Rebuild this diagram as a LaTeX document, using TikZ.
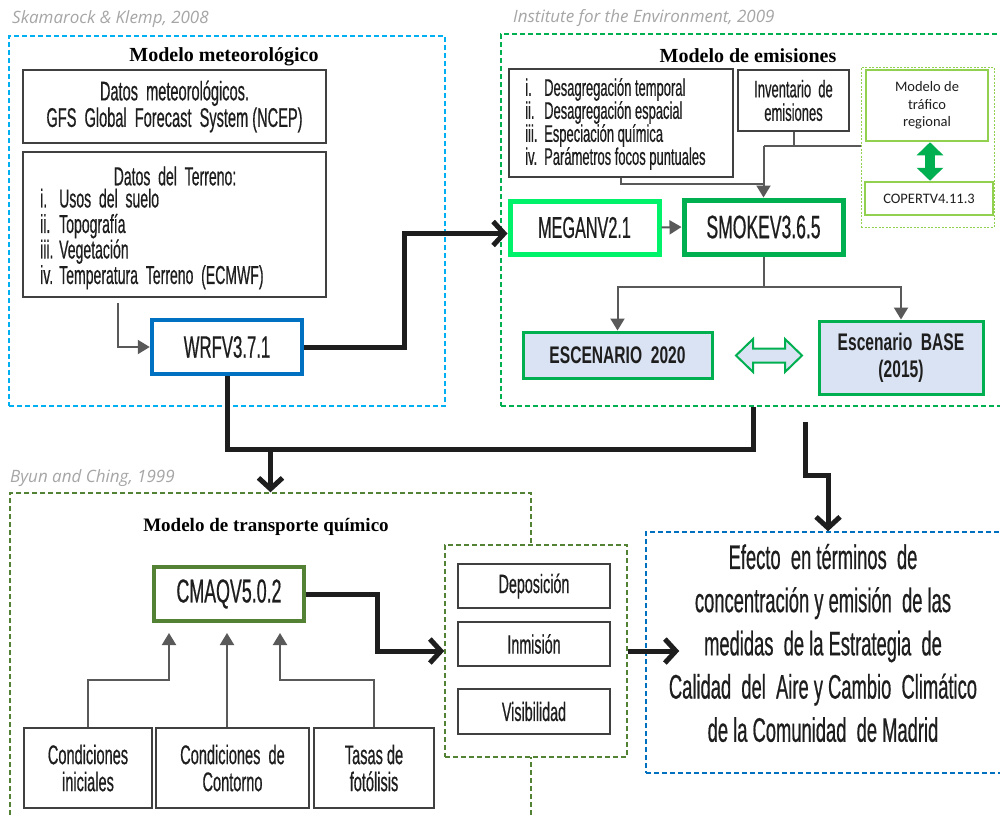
\documentclass[tikz,border=0pt]{standalone}
\usepackage{fontspec}
\usetikzlibrary{arrows.meta,calc}
\newfontfamily\cnd[FakeStretch=0.54,FakeBold=0.5]{Liberation Sans}
\newfontfamily\cndb[FakeStretch=0.65]{Liberation Sans}
\newfontfamily\ttlfont{Liberation Serif}
\newfontfamily\citfont{Open Sans}
\newfontfamily\calfont{Carlito}
\newcommand{\fsz}[2]{\fontsize{#1}{#2}\selectfont}
\definecolor{lblue}{HTML}{00B0F0}
\definecolor{dblue}{HTML}{0070C0}
\definecolor{mgreen}{HTML}{00B050}
\definecolor{bgreen}{HTML}{00F26A}
\definecolor{lgreen}{HTML}{92D050}
\definecolor{olive}{HTML}{548235}
\definecolor{txt}{HTML}{1E1E1E}
\definecolor{bord}{HTML}{404040}
\definecolor{gline}{HTML}{595959}
\definecolor{scen}{HTML}{DAE3F3}
\definecolor{citc}{HTML}{A6A6A6}
\tikzset{
  dbox/.style={draw, dash pattern=on 5pt off 3pt, line width=1.5, rectangle, inner sep=0},
  bx/.style={draw=bord, line width=2, rectangle, inner sep=0, text=txt, align=center},
  cit/.style={font=\citfont\itshape\fsz{17}{20}, text=citc, anchor=west, inner sep=0},
  ttl/.style={font=\ttlfont\bfseries\fsz{20}{22}, text=black, inner sep=0},
  glin/.style={draw=gline, line width=2},
  garrow/.style={glin, -{Triangle[length=12pt,width=14pt]}},
  tline/.style={draw=txt, line width=5},
  tarrow/.style={tline, -{Straight Barb[length=11pt,width=24pt]}},
}
\begin{document}
\begin{tikzpicture}[x=1pt,y=-1pt]
\useasboundingbox (0,0) rectangle (1000,815);
\fill[white] (0,0) rectangle (1000,815);

% ---------------- Modelo meteorologico ----------------
\node[cit] (c1) at (12,19) {Skamarock \& Klemp, 2008};
\node[dbox, draw=lblue, minimum width=436, minimum height=370] (mm) at (227,221) {};
\node[ttl] (t1) at (224,57) {Modelo meteorológico};
\node[bx, minimum width=303, minimum height=73, font=\cnd\fsz{27}{26.5}] (gfs) at (174.5,106.5)
  {Datos\ \ meteorológicos.\\GFS\ \ Global\ \ Forecast\ \ System (NCEP)};
\node[bx, minimum width=303, minimum height=145] (terr) at (174.5,224.5) {};
\node[font=\cnd\fsz{26}{25.5}, text=txt, inner sep=0] (terrh) at (175,176) {Datos\ \ del\ \ Terreno:};
\node[font=\cnd\fsz{26}{25.5}, text=txt, inner sep=0, anchor=west, align=left] (terrl) at (40,239)
  {\makebox[19pt][l]{i.}Usos\ \ del\ \ suelo\\
   \makebox[19pt][l]{ii.}Topografía\\
   \makebox[19pt][l]{iii.}Vegetación\\
   \makebox[19pt][l]{iv.}Temperatura\ \ Terreno\ \ (ECMWF)};
\node[bx, draw=dblue, line width=4.5, minimum width=150, minimum height=54, font=\cnd\fsz{31}{32}] (wrf) at (227,347) {WRFV3.7.1};
\coordinate (t1s) at (118,303);
\draw[garrow] (t1s) |- (wrf.west);

% ---------------- Modelo de emisiones ----------------
\node[cit] (c2) at (513,18) {Institute for the Environment, 2009};
\node[dbox, draw=mgreen, minimum width=506, minimum height=372] (me) at (754,220) {};
\node[ttl] (t2) at (748,56) {Modelo de emisiones};
\node[bx, minimum width=224, minimum height=108] (lst) at (621,123) {};
\node[font=\cnd\fsz{24}{23}, text=txt, inner sep=0, anchor=west, align=left] (lstt) at (525,124)
  {\makebox[19pt][l]{i.}Desagregación temporal\\
   \makebox[19pt][l]{ii.}Desagregación espacial\\
   \makebox[19pt][l]{iii.}Especiación química\\
   \makebox[19pt][l]{iv.}Parámetros focos puntuales};
\node[bx, minimum width=111, minimum height=61, font=\cnd\fsz{24}{23.5}] (inv) at (793.5,100.5) {Inventario\ \ de\\emisiones};
\node[draw=lgreen, line width=1, dash pattern=on 2pt off 1.5pt, minimum width=133, minimum height=160, inner sep=0] (trf) at (927.5,147) {};
\node[bx, draw=lgreen, line width=2.5, minimum width=122, minimum height=71, font=\calfont\fsz{14.5}{17.5}] (mtr) at (927,105.5) {Modelo de\\tráfico\\regional};
\node[bx, draw=lgreen, line width=2.5, minimum width=128, minimum height=33, font=\calfont\fsz{14.5}{17}] (cop) at (929,198.5) {COPERTV4.11.3};
\draw[draw=mgreen, line width=10, {Triangle[length=13pt,width=26pt]}-{Triangle[length=13pt,width=26pt]}] ([xshift=3]mtr.south) -- ([xshift=3]mtr.south |- cop.north);
\node[bx, draw=bgreen, line width=5, minimum width=149, minimum height=53, font=\cnd\fsz{30}{32}] (megan) at (584.5,227.5) {MEGANV2.1};
\node[bx, draw=mgreen, line width=5, minimum width=159, minimum height=54, font=\cnd\fsz{32.5}{32}] (smoke) at (763.5,227) {SMOKEV3.6.5};
\draw[garrow] (megan.east) -- (smoke.west);
\coordinate (j1) at (763.5,146);
\draw[glin] (inv.south) -- (inv.south |- j1);
\draw[glin] (trf.west |- j1) -- (j1);
\draw[garrow] (j1) -- (smoke.north);
\draw[glin] (lst.south) |- ([yshift=-6]lst.south -| smoke.north);
\node[bx, draw=mgreen, line width=3, fill=scen, minimum width=189, minimum height=46, font=\cndb\bfseries\fsz{24}{26}] (e20) at (617.5,355) {ESCENARIO\ \ 2020};
\node[bx, draw=mgreen, line width=3, fill=scen, minimum width=164, minimum height=73, font=\cndb\bfseries\fsz{24}{27}] (base) at (901,357.5) {Escenario\ \ BASE\\(2015)};
\coordinate (j2) at (763.5,287);
\draw[glin] (smoke.south) -- (j2);
\draw[garrow] (j2) -| (e20.north);
\draw[garrow] (j2) -| (base.north);
\draw[draw=mgreen, line width=2, fill=scen, line join=miter]
  (736,355.5) -- (753,339) -- (753,348.5) -- (785,348.5) -- (785,339) -- (802,355.5)
  -- (785,372) -- (785,362.5) -- (753,362.5) -- (753,372) -- cycle;

% connectors between models
\draw[tarrow] (wrf.east) -- ++(100,0) |- ([yshift=-6]megan.west);
\coordinate (e1) at (753,407);
\coordinate (j3) at (270.5,449);
\draw[tline] (wrf.south) |- (e1 |- j3) -- (e1);

% ---------------- Modelo de transporte quimico ----------------
\node[cit] (c3) at (10,478) {Byun and Ching, 1999};
\node[dbox, draw=olive, minimum width=521, minimum height=337] (ctm) at (270.5,661.5) {};
\draw[tarrow] (j3) -- (ctm.north);
\node[ttl, font=\ttlfont\bfseries\fsz{19}{21}] (t3) at (266,527) {Modelo de transporte químico};
\node[bx, draw=olive, line width=4, minimum width=150, minimum height=54, font=\cnd\fsz{33}{31}] (cmaq) at (229,594) {CMAQV5.0.2};
\node[dbox, draw=olive, fill=white, minimum width=182, minimum height=212] (res) at (536,651) {};
\node[bx, minimum width=152, minimum height=44, font=\cnd\fsz{26.5}{23}] (dep) at (534,586) {Deposición};
\node[bx, minimum width=152, minimum height=44, font=\cnd\fsz{26.5}{23}] (inm) at (534,644) {Inmisión};
\node[bx, minimum width=152, minimum height=45, font=\cnd\fsz{26.5}{23}] (vis) at (534,711.5) {Visibilidad};
\draw[tarrow] (cmaq.east) -- ++(71,0) |- (res.west);
\node[bx, minimum width=128, minimum height=80, font=\cnd\fsz{27}{27}] (ci) at (88,768) {Condiciones\\iniciales};
\node[bx, minimum width=153, minimum height=80, font=\cnd\fsz{27}{27}] (cc) at (232.5,768) {Condiciones\ \ de\\Contorno};
\node[bx, minimum width=120, minimum height=80, font=\cnd\fsz{27}{27}] (tf) at (374,768) {Tasas de\\fotólisis};
\coordinate (a1) at (169,633);
\coordinate (a2) at (227,633);
\coordinate (a3) at (280,633);
\draw[garrow] (ci.north) |- (169,680) -- (a1);
\draw[garrow] (cc.north -| a2) -- (a2);
\draw[garrow] (tf.north) |- (280,680) -- (a3);

% ---------------- Efecto ----------------
\node[dbox, draw=dblue, minimum width=360, minimum height=241] (eff) at (826,652.5) {};
\node[font=\cnd\fsz{34}{43.2}, text=txt, align=center, inner sep=0] (efft) at (823,643)
  {Efecto\ \ en términos\ \ de\\concentración\ y emisión\ \ de las\\medidas\ \ de la Estrategia\ \ de\\Calidad\ \ del\ \ Aire\ y Cambio\ \ Climático\\de la Comunidad\ \ de Madrid};
\draw[tarrow] (res.east) -- ([xshift=34]res.east -| eff.west);
\coordinate (e2) at (805,422);
\draw[tarrow] (e2) -- (805,475) -| ([xshift=2]eff.north);
\end{tikzpicture}
\end{document}
